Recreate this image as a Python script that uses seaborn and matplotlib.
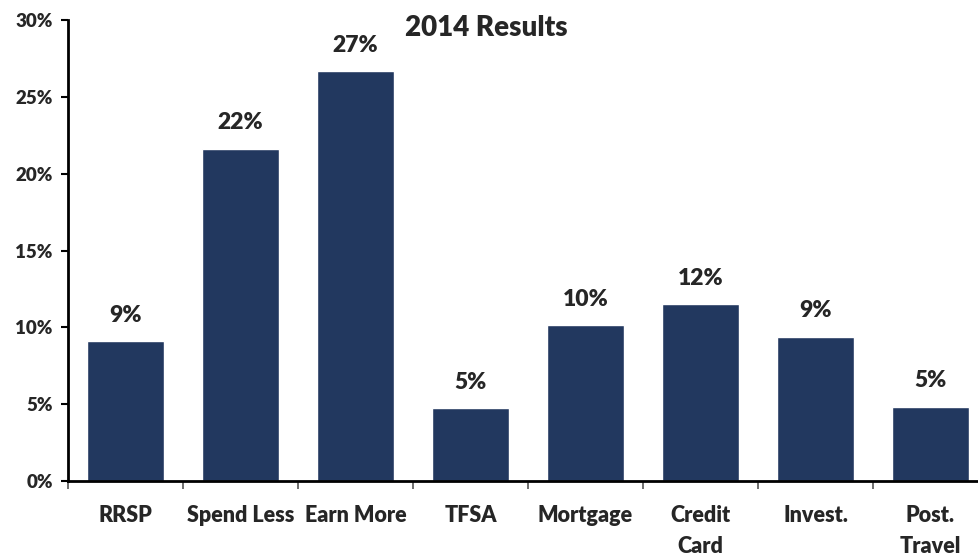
import matplotlib
matplotlib.use("Agg")
import matplotlib.pyplot as plt
import numpy as np
import pandas as pd
import seaborn as sns

# values (percent)
categories = ["RRSP", "Spend Less", "Earn More", "TFSA", "Mortgage",
              "Credit\nCard", "Invest.", "Post.\nTravel"]
shares = [9.11, 21.63, 26.67, 4.73, 10.16, 11.52, 9.39, 4.84]
yticks = [0, 5, 10, 15, 20, 25, 30]

df = pd.DataFrame({"category": categories, "share": shares})

sns.set_theme(style="white")
plt.rcParams["font.family"] = ["Lato", "DejaVu Sans"]
plt.rcParams["font.weight"] = "heavy"

fig = plt.figure(figsize=(9.79, 5.57), dpi=100)
ax = fig.add_axes([68 / 979, 1 - 481 / 557, 920 / 979, 461 / 557])

sns.barplot(data=df, x="category", y="share", color="#22385F",
            saturation=1, width=0.67, ax=ax)

for i, v in enumerate(shares):
    ax.annotate(f"{v:.0f}%", (i, v), xytext=(0, 11), textcoords="offset points",
                ha="center", va="bottom", fontsize=16.5, fontweight="heavy")

ax.set_ylim(0, 30)
ax.set_xlim(-0.5, 7.5)
ax.set_yticks(yticks)
ax.set_yticklabels([f"{t}%" for t in yticks], fontsize=13.5, fontweight="heavy")
ax.set_xticks(range(len(categories)))
ax.set_xticklabels(categories, fontsize=15.5, fontweight="heavy", linespacing=1.6)
ax.set_xticks(np.arange(-0.5, len(categories), 1), minor=True)
ax.tick_params(axis="x", which="major", length=0, pad=17)
ax.tick_params(axis="x", which="minor", length=6, width=1.2, color="#555555",
               direction="out", bottom=True)
ax.tick_params(axis="y", length=5, width=1.5, color="black", direction="out",
               left=True, pad=6)

ax.set_xlabel("")
ax.set_ylabel("")
sns.despine(ax=ax)
ax.spines["left"].set_linewidth(2)
ax.spines["bottom"].set_linewidth(2)
ax.spines["left"].set_color("black")
ax.spines["bottom"].set_color("black")

fig.text(486 / 979, 1 - 28 / 557, "2014 Results", ha="center", va="center",
         fontsize=20, fontweight="heavy")

fig.savefig("out.png", dpi=100)
